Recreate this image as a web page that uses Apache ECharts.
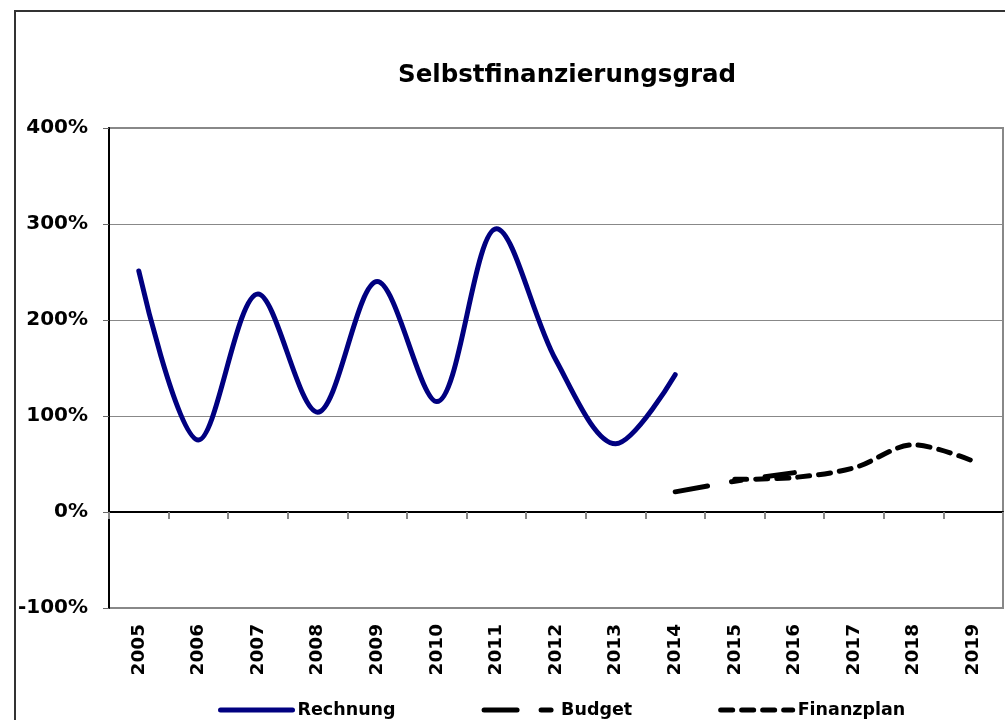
<!DOCTYPE html>
<html>
<head>
<meta charset="utf-8">
<script src="https://cdn.jsdelivr.net/npm/echarts@6/dist/echarts.min.js"></script>
<style>
  html, body { margin: 0; padding: 0; background: #fff; }
  #chart { width: 1005px; height: 720px; }
</style>
</head>
<body>
<div id="chart"></div>
<script>
const titleText = 'Selbstfinanzierungsgrad';
const years = ['2005','2006','2007','2008','2009','2010','2011','2012','2013','2014','2015','2016','2017','2018','2019'];
const rechnung = [251, 75, 227, 104, 240, 115, 295, 158, 71, 143, null, null, null, null, null];
const budget = [null, null, null, null, null, null, null, null, null, 21, 32, 41, null, null, null];
const finanzplan = [null, null, null, null, null, null, null, null, null, null, 34, 36, 46, 70, 53];
const yMin = -100, yMax = 400, yStep = 100;

const FONT = 'DejaVu Sans';
const chart = echarts.init(document.getElementById('chart'), null, { renderer: 'canvas' });

const rechnungLine = { color: '#000080', width: 5, cap: 'round' };
const budgetLine = { color: '#000', width: 5, type: [33, 24, 10, 24], cap: 'round' };
const finanzLine = { color: '#000', width: 5, type: [12, 9], cap: 'round' };

chart.setOption({
  backgroundColor: '#ffffff',
  animation: false,
  title: {
    text: titleText,
    left: 393,
    top: 58,
    textStyle: { fontFamily: FONT, fontWeight: 'bold', fontSize: 24.5, color: '#000' }
  },
  graphic: [{
    type: 'rect',
    shape: { x: 15, y: 11, width: 1100, height: 800 },
    style: { fill: 'none', stroke: '#333', lineWidth: 2 },
    silent: true, z: -1
  }],
  legend: {
    left: 213,
    top: 696,
    itemWidth: 72,
    itemHeight: 14,
    itemGap: 86,
    textStyle: { fontFamily: FONT, fontWeight: 'bold', fontSize: 17.5, color: '#000' },
    data: [
      { name: 'Rechnung', itemStyle: { opacity: 0 }, lineStyle: rechnungLine },
      { name: 'Budget', itemStyle: { opacity: 0 }, lineStyle: budgetLine },
      { name: 'Finanzplan', itemStyle: { opacity: 0 }, lineStyle: finanzLine }
    ]
  },
  grid: {
    left: 109, top: 128, right: 2, bottom: 112,
    show: true, borderColor: '#888', borderWidth: 2, backgroundColor: '#fff'
  },
  xAxis: [{
    type: 'category',
    data: years,
    boundaryGap: true,
    axisLine: { onZero: true, lineStyle: { color: '#000', width: 2 } },
    axisTick: { show: true, length: 7, lineStyle: { color: '#888', width: 2 } },
    axisLabel: { show: false }
  }, {
    type: 'category',
    data: years,
    boundaryGap: true,
    position: 'bottom',
    axisLine: { show: false, onZero: false },
    axisTick: { show: false },
    axisLabel: {
      rotate: 90, margin: 16, color: '#000',
      fontFamily: FONT, fontWeight: 'bold', fontSize: 18.5
    }
  }],
  yAxis: {
    type: 'value',
    min: yMin, max: yMax, interval: yStep,
    axisLine: { show: true, onZero: false, lineStyle: { color: '#000', width: 2 } },
    axisTick: { show: true, length: 6, lineStyle: { color: '#666', width: 1 } },
    splitLine: { show: true, lineStyle: { color: '#888', width: 1 } },
    axisLabel: {
      formatter: '{value}%', margin: 21, color: '#000',
      fontFamily: FONT, fontWeight: 'bold', fontSize: 20
    }
  },
  series: [{
    name: 'Rechnung',
    type: 'line',
    data: rechnung,
    smooth: 0.33,
    symbol: 'none',
    lineStyle: rechnungLine,
    itemStyle: { color: '#000080' }
  }, {
    name: 'Budget',
    type: 'line',
    data: budget,
    smooth: 0.33,
    symbol: 'none',
    lineStyle: budgetLine,
    itemStyle: { color: '#000' }
  }, {
    name: 'Finanzplan',
    type: 'line',
    data: finanzplan,
    smooth: 0.33,
    symbol: 'none',
    lineStyle: finanzLine,
    itemStyle: { color: '#000' }
  }]
});
</script>
</body>
</html>
